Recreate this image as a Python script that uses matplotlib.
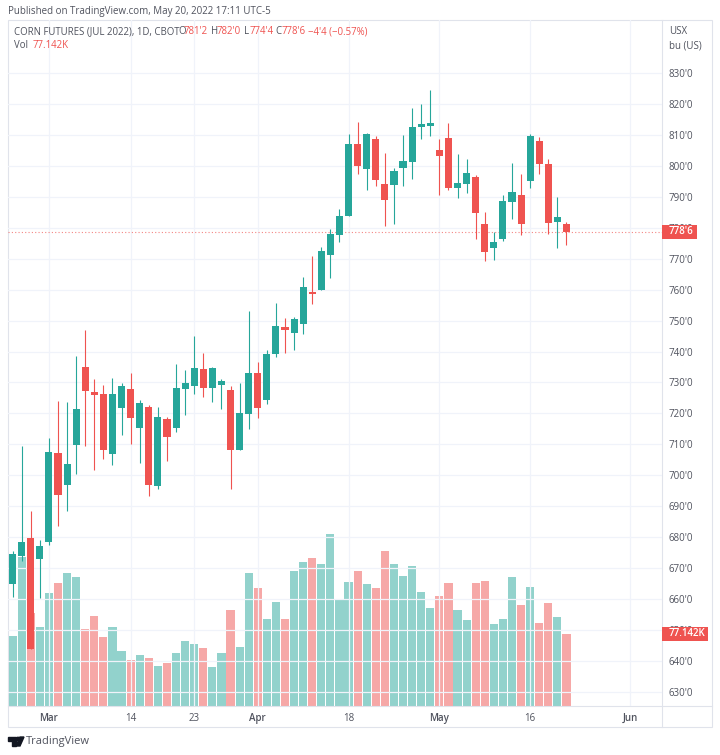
import matplotlib
matplotlib.use('Agg')
import matplotlib.pyplot as plt
import numpy as np
from matplotlib.patches import Polygon, Rectangle, Circle
from matplotlib.transforms import Affine2D

# Daily prices, US cents per bushel
opens = [664.9, 674.0, 679.9, 673.0, 678.6, 707.1, 697.0, 709.8, 735.0, 726.9,
         726.2, 707.0, 721.7, 727.9, 715.4, 722.0, 696.5, 718.1, 715.4, 727.8,
         728.9, 734.5, 728.3, 729.1, 727.7, 708.2, 719.9, 733.0, 724.3, 739.1,
         747.8, 746.0, 749.0, 759.0, 759.9, 771.2, 777.7, 783.9, 807.1, 799.1,
         808.6, 794.1, 793.7, 799.3, 801.3, 812.5, 813.0, 805.1, 809.1, 792.9,
         794.2, 796.4, 781.2, 773.6, 776.4, 788.4, 790.6, 795.1, 808.0, 800.7,
         781.9, 781.25]
closes = [674.6, 678.6, 643.9, 677.2, 707.6, 693.7, 703.6, 721.3, 727.3, 726.0,
          708.1, 726.2, 728.8, 718.4, 723.4, 696.9, 718.9, 712.4, 728.2, 729.7,
          734.8, 728.3, 734.8, 730.5, 708.2, 720.0, 733.0, 721.8, 739.2, 748.4,
          747.0, 750.4, 760.9, 758.6, 772.6, 778.0, 783.8, 807.1, 799.9, 810.2,
          795.3, 789.0, 798.2, 801.6, 812.5, 813.6, 813.7, 803.3, 792.9, 794.5,
          797.7, 784.7, 772.1, 775.5, 788.6, 791.6, 781.1, 809.6, 800.6, 781.4,
          783.4, 778.75]
highs = [675.6, 709.5, 688.5, 679.0, 712.1, 724.0, 723.6, 738.6, 747.0, 731.0,
         729.2, 731.4, 729.7, 733.0, 724.3, 722.6, 722.1, 719.0, 736.0, 734.0,
         745.0, 739.4, 734.9, 731.0, 729.0, 729.7, 753.0, 736.5, 740.5, 755.6,
         750.9, 751.1, 764.1, 770.9, 773.7, 779.6, 786.1, 810.2, 814.2, 810.6,
         809.5, 804.1, 799.4, 810.0, 818.7, 820.0, 824.5, 808.7, 813.9, 803.8,
         802.1, 796.9, 785.1, 778.7, 790.6, 800.8, 797.3, 810.3, 809.3, 802.2,
         789.9, 782.0]
lows = [660.8, 672.4, 643.9, 660.3, 677.5, 683.7, 688.6, 700.4, 709.6, 701.7,
        705.3, 703.4, 713.1, 710.2, 704.1, 693.4, 695.7, 704.5, 714.1, 719.6,
        726.3, 725.4, 723.8, 721.4, 695.7, 708.2, 714.9, 718.4, 723.0, 738.3,
        739.4, 740.5, 745.7, 755.5, 759.9, 763.7, 775.5, 783.9, 797.3, 792.2,
        793.5, 780.6, 781.1, 793.5, 795.8, 808.7, 809.7, 790.6, 792.2, 789.7,
        791.2, 776.5, 769.2, 769.5, 775.8, 782.8, 777.6, 792.9, 797.5, 778.1,
        773.6, 774.5]
# Volume in thousands
volumes = [74.7, 159.3, 98.9, 84.0, 120.6, 130.9, 141.6, 138.0, 82.2, 96.4,
           73.3, 84.0, 58.7, 48.8, 54.4, 51.2, 43.0, 45.6, 56.2, 69.4,
           66.2, 62.2, 41.9, 56.2, 102.1, 63.0, 141.6, 126.2, 92.5, 111.3,
           92.5, 144.0, 154.0, 157.6, 151.5, 183.2, 113.8, 132.3, 144.0, 129.9,
           125.6, 165.7, 151.5, 138.7, 149.7, 121.3, 104.6, 117.4, 130.9, 102.4,
           92.1, 131.2, 133.7, 87.8, 92.8, 137.3, 107.4, 126.7, 88.2, 109.9,
           94.6, 77.142]

date_ticks = [4, 13, 20, 27, 37, 47, 57, 68]
date_labels = ['Mar', '14', '23', 'Apr', '18', 'May', '16', 'Jun']
price_ticks = list(range(630, 840, 10))
last_close = 778.75

UP = '#26a69a'
DOWN = '#ef5350'
GRID = '#f0f3fa'
FRAME = '#e0e3eb'
TEXT = '#50535e'

plt.rcParams['font.family'] = ['Open Sans', 'DejaVu Sans']

W, H = 720, 755
fig = plt.figure(figsize=(W / 100, H / 100), dpi=100)
# pixel coordinates, y down, for the frame and header bits
px = Affine2D().scale(1 / W, -1 / H).translate(0, 1) + fig.transFigure

left, right, top, bottom = 8, 662, 20, 706
ax = fig.add_axes([left / W, 1 - bottom / H, (right - left) / W, (bottom - top) / H])
ax_vol = ax.twinx()
ax.set_zorder(2)
ax_vol.set_zorder(1)
ax.patch.set_visible(False)

x = np.arange(len(opens))
up = np.array(closes) >= np.array(opens)
colors = [UP if u else DOWN for u in up]

ax_vol.bar(x, volumes, width=0.9, color=colors, alpha=0.5, linewidth=0)
ax_vol.set_ylim(0, 732)
ax_vol.axis('off')

ax.vlines(x, lows, highs, colors=colors, linewidth=0.8, zorder=3)
body_low = np.minimum(opens, closes)
body_h = np.maximum(np.abs(np.array(closes) - np.array(opens)), 0.5)
ax.bar(x, body_h, bottom=body_low, width=0.78, color=colors, linewidth=0, zorder=4)

ax.axhline(last_close, color=DOWN, linewidth=0.8, linestyle=(0, (1, 2)), alpha=0.7, zorder=2)

ax.set_xlim(-0.507, 71.52)
ax.set_ylim(625.48, 847.12)
ax.set_xticks(date_ticks)
ax.set_xticklabels(date_labels)
ax.set_yticks(price_ticks)
ax.set_yticklabels([f"{p}'0" for p in price_ticks])
ax.yaxis.tick_right()
ax.tick_params(axis='both', length=0, labelsize=7, labelcolor=TEXT)
ax.tick_params(axis='y', pad=5)
ax.tick_params(axis='x', pad=5)
ax.grid(True, color=GRID, linewidth=0.9, zorder=0)
ax.set_axisbelow(True)
for s in ax.spines.values():
    s.set_visible(False)
for lab, name in zip(ax.get_xticklabels(), date_labels):
    if name in ('Mar', 'Apr', 'May', 'Jun'):
        lab.set_fontweight('semibold')

# outer frame
fig.add_artist(Rectangle((8, 20), 704, 707, transform=px, fill=False, edgecolor=FRAME, linewidth=0.8))
fig.add_artist(plt.Line2D([662, 662], [20, 727], transform=px, color=FRAME, linewidth=0.8))
fig.add_artist(plt.Line2D([8, 712], [706, 706], transform=px, color=FRAME, linewidth=0.8))


def txt(xp, yp, s, color=TEXT, size=7, **kw):
    return fig.text(xp, yp, s, transform=px, color=color, fontsize=size, va='center', zorder=20, **kw)


txt(8, 11.5, 'Published on TradingView.com, May 20, 2022 17:11 UTC-5', size=7)
txt(14, 32, 'CORN FUTURES (JUL 2022), 1D, CBOT', size=6.9)
for xp, s in [(178, 'O'), (211, 'H'), (244, 'L'), (275, 'C')]:
    txt(xp, 32, s, size=6.9)
for xp, s in [(184, "781'2"), (217, "782'0"), (250, "774'4"), (281.5, "778'6"), (308, "\u22124'4 (\u22120.57%)")]:
    txt(xp, 32, s, color=DOWN, size=6.9)
txt(14, 46, 'Vol', size=6.9)
txt(32.5, 46, '77.142K', color=DOWN, size=6.9)
txt(669, 31, 'USX', size=7)
txt(669, 46, 'bu (US)', size=7)

# last value tags on the price scale
fig.add_artist(Rectangle((662, 225), 35, 14, transform=px, facecolor=DOWN, edgecolor='none', zorder=15))
txt(669, 232, "778'6", color='white', size=7, fontweight='semibold')
fig.add_artist(Rectangle((662, 627), 46, 14, transform=px, facecolor=DOWN, edgecolor='none', zorder=15))
txt(669, 634, '77.142K', color='white', size=7, fontweight='semibold')

# TradingView logo
logo = '#131722'
fig.add_artist(Polygon([(8, 737), (16, 737), (16, 746), (12, 746), (12, 741), (8, 741)], transform=px, color=logo))
fig.add_artist(Circle((18, 739), 1.7, transform=px, color=logo))
fig.add_artist(Polygon([(20, 737), (24, 737), (20, 746), (16, 746)], transform=px, color=logo))
txt(26, 741.5, 'TradingView', size=8)

fig.savefig('out.png', dpi=100)
